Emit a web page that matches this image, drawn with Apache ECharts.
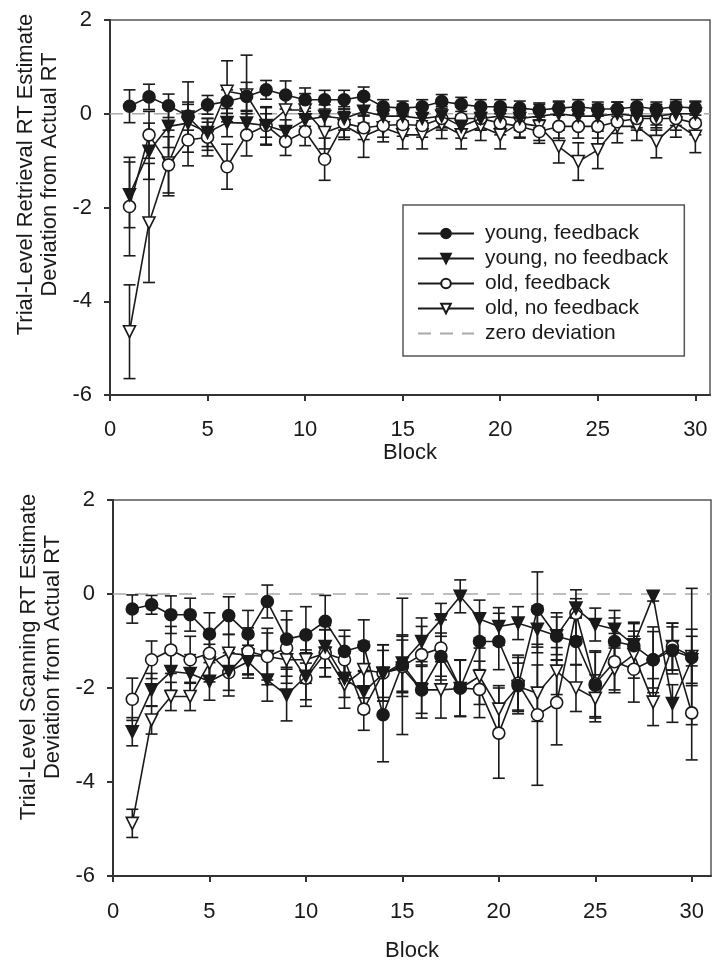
<!DOCTYPE html>
<html>
<head>
<meta charset="utf-8">
<script src="https://cdn.jsdelivr.net/npm/echarts@6/dist/echarts.min.js"></script>
<style>
  html, body { margin: 0; padding: 0; background: #fff; }
  #main { width: 712px; height: 963px; }
</style>
</head>
<body>
<div id="main"></div>
<script>
// blocks 1..30
var blocks = [];
for (var i = 1; i <= 30; i++) blocks.push(i);

var seriesNames = ['young, feedback', 'young, no feedback', 'old, feedback', 'old, no feedback'];

// top panel: retrieval RT estimate deviation (means, error bar half-widths)
var retYoungFb = [0.16,0.36,0.17,-0.05,0.19,0.26,0.37,0.51,0.4,0.3,0.3,0.3,0.37,0.15,0.12,0.15,0.26,0.2,0.15,0.15,0.12,0.08,0.12,0.15,0.1,0.1,0.15,0.1,0.15,0.12];
var retYoungNoFb = [-1.73,-0.8,-0.27,-0.2,-0.4,-0.19,-0.2,-0.25,-0.38,-0.13,-0.06,-0.1,0.05,-0.05,-0.05,-0.1,-0.05,-0.27,-0.1,-0.05,-0.1,-0.05,0.0,-0.05,-0.05,0.0,-0.05,-0.05,0.0,0.0];
var retOldFb = [-1.98,-0.45,-1.09,-0.56,-0.5,-1.13,-0.45,-0.25,-0.59,-0.38,-0.97,-0.2,-0.3,-0.25,-0.23,-0.25,-0.1,-0.1,-0.1,-0.2,-0.27,-0.38,-0.27,-0.27,-0.27,-0.17,-0.1,-0.1,-0.1,-0.2];
var retOldNoFb = [-4.65,-2.33,-1.05,-0.07,-0.48,0.48,0.4,-0.27,0.08,0.08,-0.4,-0.25,-0.48,-0.3,-0.45,-0.45,-0.23,-0.45,-0.27,-0.45,-0.2,-0.27,-0.7,-1.02,-0.77,-0.27,-0.27,-0.59,-0.2,-0.48];

var retErrYoungFb = [0.35,0.27,0.25,0.3,0.2,0.25,0.3,0.2,0.3,0.25,0.2,0.2,0.2,0.15,0.15,0.15,0.15,0.15,0.15,0.15,0.15,0.15,0.15,0.15,0.15,0.15,0.15,0.15,0.15,0.15];
var retErrYoungNoFb = [0.7,0.6,0.45,0.4,0.3,0.3,0.25,0.25,0.25,0.25,0.25,0.25,0.25,0.25,0.25,0.25,0.25,0.25,0.25,0.25,0.25,0.25,0.25,0.25,0.25,0.25,0.25,0.25,0.25,0.25];
var retErrOldFb = [1.05,0.5,0.6,0.55,0.4,0.48,0.45,0.4,0.3,0.3,0.45,0.3,0.25,0.25,0.25,0.25,0.25,0.25,0.25,0.25,0.25,0.25,0.25,0.25,0.25,0.25,0.25,0.25,0.25,0.25];
var retErrOldNoFb = [1.0,1.27,0.7,0.75,0.3,0.65,0.85,0.4,0.35,0.35,0.35,0.3,0.45,0.3,0.3,0.3,0.3,0.3,0.3,0.3,0.3,0.3,0.35,0.4,0.4,0.35,0.3,0.35,0.3,0.35];

// bottom panel: scanning RT estimate deviation
var scanYoungFb = [-0.32,-0.23,-0.44,-0.44,-0.85,-0.46,-0.85,-0.16,-0.96,-0.87,-0.58,-1.22,-1.1,-2.57,-1.5,-2.04,-1.33,-2.0,-1.01,-1.01,-1.95,-0.33,-0.9,-1.01,-1.94,-1.01,-1.1,-1.4,-1.2,-1.35];
var scanYoungNoFb = [-2.93,-2.04,-1.65,-1.69,-1.86,-1.65,-1.44,-1.83,-2.15,-1.75,-1.12,-1.8,-2.08,-1.7,-1.47,-1.01,-0.55,-0.05,-0.53,-0.69,-0.62,-0.75,-0.89,-0.3,-0.65,-0.75,-1.08,-0.05,-2.33,-1.4];
var scanOldFb = [-2.24,-1.4,-1.19,-1.4,-1.26,-1.67,-1.22,-1.33,-1.15,-1.79,-1.26,-1.4,-2.45,-1.68,-1.54,-1.29,-1.15,-2.0,-2.03,-2.96,-1.9,-2.57,-2.31,-0.41,-1.91,-1.44,-1.6,-1.4,-1.12,-2.53];
var scanOldNoFb = [-4.88,-2.68,-2.18,-2.18,-1.47,-1.26,-1.3,-1.33,-1.4,-1.4,-1.26,-1.93,-1.61,-1.68,-1.58,-2.04,-2.04,-2.01,-1.75,-2.45,-1.97,-2.11,-1.64,-2.0,-2.22,-1.6,-1.29,-2.3,-1.12,-1.33];

var scanErrYoungFb = [0.3,0.2,0.4,0.35,0.45,0.4,0.5,0.35,0.6,0.6,0.55,0.45,0.55,1.0,0.6,0.6,0.5,0.6,0.6,0.6,0.6,0.8,0.5,0.5,0.7,0.5,0.5,0.6,0.5,0.6];
var scanErrYoungNoFb = [0.3,0.35,0.4,0.4,0.4,0.4,0.35,0.45,0.55,0.5,0.45,0.4,0.45,0.5,0.6,0.5,0.35,0.35,0.4,0.4,0.35,0.5,0.4,0.2,0.35,0.4,0.45,0.1,0.4,0.5];
var scanErrOldFb = [0.45,0.4,0.5,0.5,0.5,0.5,0.5,0.6,0.6,0.6,0.5,0.5,0.45,0.6,1.45,0.6,0.6,0.6,0.6,0.96,0.6,1.5,0.9,0.5,0.7,0.6,0.7,0.7,0.5,1.0];
var scanErrOldNoFb = [0.3,0.3,0.3,0.3,0.4,0.4,0.4,0.5,0.5,0.5,0.5,0.5,0.6,0.6,0.6,0.5,0.6,0.6,0.6,0.5,0.5,0.6,0.5,0.5,0.5,0.5,0.5,0.5,0.5,1.45];

var yTicks = [-6, -4, -2, 0, 2];
var xTicks = [0, 5, 10, 15, 20, 25, 30];

var fontFam = '"Liberation Sans", Arial, sans-serif';
var ink = '#1a1a1a';
var downTri = 'path://M0,0 L12,0 L6,10.4 Z';

var styles = [
    { symbol: 'circle', fill: ink },
    { symbol: downTri, fill: ink },
    { symbol: 'circle', fill: '#fff' },
    { symbol: downTri, fill: '#fff' }
];

function pairs(vals) {
    return vals.map(function (v, i) { return [blocks[i], v]; });
}
function bars(vals, errs) {
    return vals.map(function (v, i) { return [blocks[i], v - errs[i], v + errs[i]]; });
}

function renderErr(params, api) {
    var x = api.value(0);
    var lo = api.coord([x, api.value(1)]);
    var hi = api.coord([x, api.value(2)]);
    var w = 6;
    var st = { stroke: ink, lineWidth: 1.6 };
    return {
        type: 'group',
        children: [
            { type: 'line', shape: { x1: hi[0], y1: hi[1], x2: lo[0], y2: lo[1] }, style: st },
            { type: 'line', shape: { x1: hi[0] - w, y1: hi[1], x2: hi[0] + w, y2: hi[1] }, style: st },
            { type: 'line', shape: { x1: lo[0] - w, y1: lo[1], x2: lo[0] + w, y2: lo[1] }, style: st }
        ]
    };
}

function panelSeries(idx, means, errs, xmax) {
    var out = [];
    out.push({
        name: 'zero deviation',
        type: 'line',
        xAxisIndex: idx, yAxisIndex: idx,
        data: [[0, 0], [xmax, 0]],
        symbol: 'none',
        silent: true,
        z: 1,
        lineStyle: { color: '#aaa', width: 1.6, type: [13, 9] },
        itemStyle: { color: '#aaa' }
    });
    for (var k = 0; k < 4; k++) {
        out.push({
            name: seriesNames[k] + ' err',
            type: 'custom',
            xAxisIndex: idx, yAxisIndex: idx,
            renderItem: renderErr,
            encode: { x: 0, y: [1, 2] },
            data: bars(means[k], errs[k]),
            z: 2,
            silent: true
        });
    }
    for (var k2 = 0; k2 < 4; k2++) {
        out.push({
            name: seriesNames[k2],
            type: 'line',
            xAxisIndex: idx, yAxisIndex: idx,
            data: pairs(means[k2]),
            symbol: styles[k2].symbol,
            symbolSize: 12,
            showAllSymbol: true,
            z: 3 + (3 - k2),
            lineStyle: { color: ink, width: 1.6 },
            itemStyle: { color: styles[k2].fill, borderColor: ink, borderWidth: 1.6 }
        });
    }
    return out;
}

function xAxisCfg(idx, xmax, gap, margin) {
    return {
        gridIndex: idx, type: 'value', min: 0, max: xmax, interval: 5,
        name: 'Block', nameLocation: 'middle', nameGap: gap,
        nameTextStyle: { fontSize: 22, color: ink, fontFamily: fontFam },
        axisLine: { show: true, onZero: false, lineStyle: { color: '#333', width: 2 } },
        axisTick: { show: true, inside: false, length: 6, lineStyle: { color: '#333', width: 2 },
            customValues: xTicks },
        axisLabel: { fontSize: 22, color: ink, fontFamily: fontFam, margin: margin,
            customValues: xTicks },
        splitLine: { show: false }
    };
}

function yAxisCfg(idx, title, pad) {
    return {
        gridIndex: idx, type: 'value', min: -6, max: 2, interval: 2,
        name: title, nameLocation: 'middle', nameGap: 46, nameRotate: 90,
        nameTextStyle: { fontSize: 22, color: ink, fontFamily: fontFam, lineHeight: 24,
            align: 'center', padding: [0, 0, 0, pad] },
        axisLine: { show: true, onZero: false, lineStyle: { color: '#333', width: 2 } },
        axisTick: { show: true, inside: false, length: 6, lineStyle: { color: '#333', width: 2 },
            customValues: yTicks },
        axisLabel: { fontSize: 22, color: ink, fontFamily: fontFam, margin: 18,
            customValues: yTicks },
        splitLine: { show: false }
    };
}

var chart = echarts.init(document.getElementById('main'), null, { renderer: 'canvas' });

var topMax = 30.75, botMax = 31;

var option = {
    animation: false,
    backgroundColor: '#fff',
    textStyle: { fontFamily: fontFam },
    grid: [
        { left: 110, right: 2, top: 20, height: 375, show: true, borderColor: '#555', borderWidth: 1.5, backgroundColor: 'transparent' },
        { left: 113, right: 1, top: 500, height: 376, show: true, borderColor: '#555', borderWidth: 1.5, backgroundColor: 'transparent' }
    ],
    xAxis: [xAxisCfg(0, topMax, 41, 24), xAxisCfg(1, botMax, 64, 25)],
    yAxis: [
        yAxisCfg(0, 'Trial-Level Retrieval RT Estimate\nDeviation from Actual RT', 66),
        yAxisCfg(1, 'Trial-Level Scanning RT Estimate\nDeviation from Actual RT', 62)
    ],
    legend: {
        left: 403, top: 205,
        orient: 'vertical',
        data: seriesNames.concat([{ name: 'zero deviation', itemStyle: { opacity: 0 } }]),
        itemWidth: 56, itemHeight: 12, itemGap: 4,
        padding: [18, 16, 12, 14],
        borderColor: '#555', borderWidth: 1.5, backgroundColor: '#fff',
        textStyle: { fontSize: 21, color: ink, fontFamily: fontFam, padding: [0, 0, 0, 6] },
        selectedMode: false
    },
    series: panelSeries(0, [retYoungFb, retYoungNoFb, retOldFb, retOldNoFb],
                           [retErrYoungFb, retErrYoungNoFb, retErrOldFb, retErrOldNoFb], topMax)
        .concat(panelSeries(1, [scanYoungFb, scanYoungNoFb, scanOldFb, scanOldNoFb],
                               [scanErrYoungFb, scanErrYoungNoFb, scanErrOldFb, scanErrOldNoFb], botMax))
};

chart.setOption(option);
</script>
</body>
</html>
